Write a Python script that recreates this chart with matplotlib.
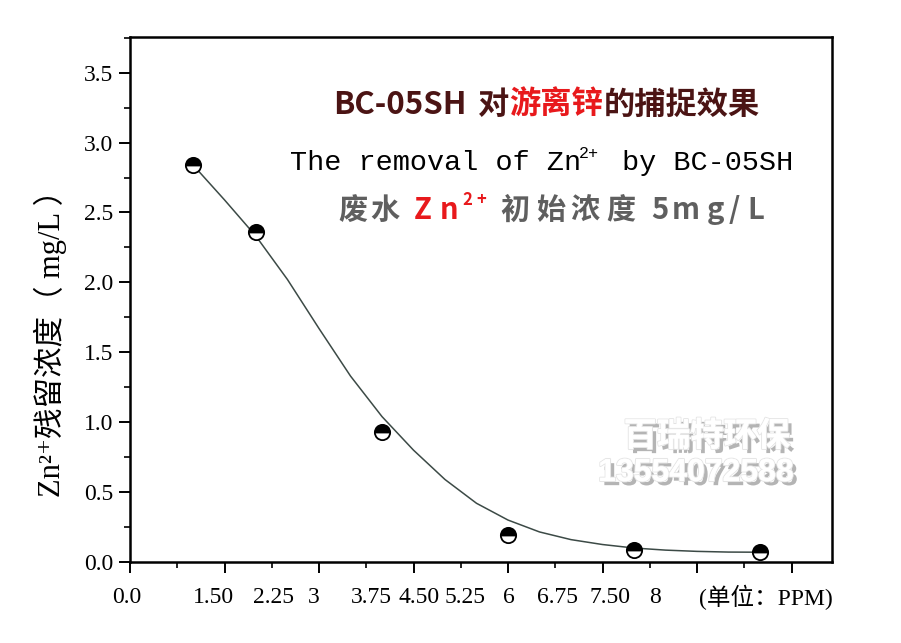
import matplotlib
matplotlib.use('Agg')
import matplotlib.pyplot as plt
import matplotlib.patheffects as pe
from matplotlib.ticker import MultipleLocator, NullFormatter
from matplotlib.transforms import blended_transform_factory

# dados
dose = [1, 2, 4, 6, 8, 10]
residual = [2.84, 2.36, 0.93, 0.19, 0.085, 0.075]

fit_x = [1.0, 1.5, 2.0, 2.5, 3.0, 3.5, 4.0, 4.5, 5.0, 5.5,
         6.0, 6.5, 7.0, 7.5, 8.0, 8.5, 9.0, 9.5, 10.0]
fit_y = [2.84, 2.59, 2.33, 2.02, 1.67, 1.33, 1.04, 0.80, 0.59, 0.42,
         0.30, 0.215, 0.16, 0.125, 0.10, 0.085, 0.076, 0.071, 0.07]

xlabels = ['0.0', '1.50', '2.25', '3', '3.75', '4.50', '5.25', '6', '6.75', '7.50', '8', '(单位：PPM)']
ylabel = 'Zn²⁺残留浓度（ mg/L ）'

W, H = 901, 643
serif = ['Liberation Serif', 'DejaVu Serif', 'Noto Sans CJK SC']
cjk = ['Noto Sans CJK SC', 'DejaVu Sans']

fig = plt.figure(figsize=(W / 100, H / 100), dpi=100)
ax = fig.add_axes([130 / W, 1 - 562 / H, (832 - 130) / W, (562 - 37) / H])


def put(s, x, y, **kw):
    # texto em coordenadas de pixel (origem no topo)
    return fig.text(x / W, 1 - y / H, s, ha=kw.pop('ha', 'left'),
                    va=kw.pop('va', 'baseline'), **kw)


# curva e pontos
ax.plot(fit_x, fit_y, color='#3c4a46', lw=1.1, zorder=2)
ax.plot(dose, residual, 'o', ms=11, mec='black', mew=1.3, mfc='black',
        fillstyle='top', markerfacecoloralt='white', zorder=3)

ax.set_xlim(0, 702 / 63)
ax.set_ylim(0, 3.755)
ax.xaxis.set_major_locator(MultipleLocator(1.5))
ax.xaxis.set_minor_locator(MultipleLocator(0.75))
ax.xaxis.set_major_formatter(NullFormatter())
ax.yaxis.set_major_locator(MultipleLocator(0.5))
ax.yaxis.set_minor_locator(MultipleLocator(0.25))
ax.yaxis.set_major_formatter(lambda v, p: f'{v:.1f}')
ax.tick_params(which='major', direction='out', length=8, width=1.4)
ax.tick_params(which='minor', direction='out', length=4.5, width=1.2)
ax.tick_params(axis='y', labelsize=17, pad=4)
for lb in ax.get_yticklabels():
    lb.set_family(serif)
for sp in ax.spines.values():
    sp.set_linewidth(1.8)

# rotulos do eixo x (posicoes como na figura original)
xlabel_pos = [-0.05, 1.32, 2.27, 2.92, 3.83, 4.59, 5.32, 6.02, 6.78, 7.62, 8.33, 10.1]
trans = blended_transform_factory(ax.transData, ax.transAxes)
for lab, xp in zip(xlabels, xlabel_pos):
    ax.text(xp, -0.068, lab, transform=trans, ha='center', va='center',
            fontsize=17, family=serif, clip_on=False)

put(ylabel, 50, 336, rotation=90, ha='center', va='center', fontsize=22, family=serif)

# titulo linha 1
maroon = '#4b1414'
red = '#e8191c'
grey = '#5f5f5f'
bold = dict(family=cjk, fontweight='bold', fontsize=22.5)
put('BC-05SH', 333, 114, color=maroon, **bold)
put('对', 478, 114, color=maroon, **bold)
put('游离锌', 509, 114, color=red, **bold)
put('的捕捉效果', 604, 114, color=maroon, **bold)

# titulo linha 2
mono = dict(family=['Liberation Mono', 'DejaVu Sans Mono'], color='black')
put('The removal of Zn', 290, 170, fontsize=20.5, **mono)
put('2+', 579, 158, fontsize=12, **mono)
put('by BC-05SH', 622, 170, fontsize=20.5, **mono)

# titulo linha 3
b3 = dict(family=cjk, fontweight='bold', fontsize=21)
for ch, xp in zip('废水', [338, 370]):
    put(ch, xp, 219, color=grey, **b3)
for ch, xp in zip('Zn', [414, 440]):
    put(ch, xp, 219, color=red, **b3)
for ch, xp in zip('2+', [462, 476]):
    put(ch, xp, 205, color=red, family=cjk, fontweight='bold', fontsize=12)
for ch, xp in zip('初始浓度', [500, 536, 570, 606]):
    put(ch, xp, 219, color=grey, **b3)
for ch, xp in zip('5mg/L', [651, 672, 707, 729, 747]):
    put(ch, xp, 219, color=grey, **b3)

# marca d'agua
shadow = [pe.withSimplePatchShadow(offset=(3, -3), shadow_rgbFace='#777777', alpha=0.55),
          pe.withStroke(linewidth=1.5, foreground='#e6e6e6'), pe.Normal()]
put('百瑞特环保', 707, 446, ha='center', color='white', family=cjk,
    fontweight='bold', fontsize=24, path_effects=shadow)
put('13554072588', 696, 481, ha='center', color='white',
    family=['Liberation Sans', 'DejaVu Sans'], fontweight='bold', fontsize=23,
    path_effects=shadow)

plt.savefig('out.png', dpi=100)
plt.close()
